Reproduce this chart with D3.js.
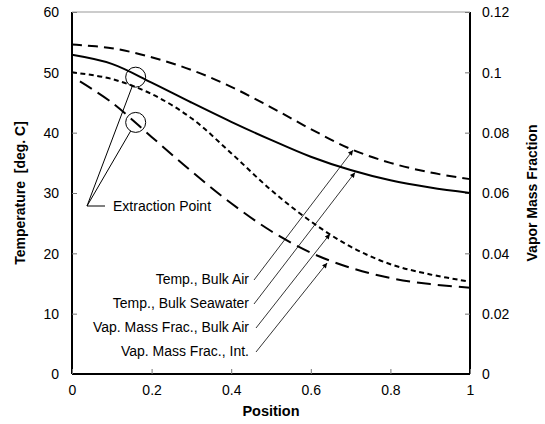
<!DOCTYPE html>
<html>
<head>
<meta charset="utf-8">
<script src="https://cdn.jsdelivr.net/npm/d3@7"></script>
<style>
  body { margin: 0; background: #fff; }
  text { font-family: Arial, "Liberation Sans", sans-serif; fill: #000; }
</style>
</head>
<body>
<svg id="chart"></svg>
<script>
// data
var positions = [0, 0.1, 0.2, 0.3, 0.4, 0.5, 0.6, 0.7, 0.8, 0.9, 1.0];
var tempBulkAir = [54.6, 54.0, 52.5, 50.4, 47.6, 44.2, 40.6, 37.3, 35.0, 33.4, 32.3];
var tempBulkSeawater = [52.9, 51.4, 48.3, 45.0, 41.8, 38.8, 36.0, 33.8, 32.1, 30.9, 30.0];
var vapBulkAir = [0.1000, 0.0978, 0.0928, 0.0848, 0.0732, 0.0610, 0.0506, 0.0422, 0.0364, 0.0330, 0.0306];
var intPositions = [0.02, 0.1, 0.2, 0.3, 0.4, 0.5, 0.6, 0.7, 0.8, 0.9, 1.0];
var vapInterface = [0.0970, 0.0900, 0.0786, 0.0672, 0.0566, 0.0474, 0.0402, 0.0352, 0.0318, 0.0298, 0.0286];

var xTicks = [0, 0.2, 0.4, 0.6, 0.8, 1];
var tempTicks = [0, 10, 20, 30, 40, 50, 60];
var fracTicks = [0, 0.02, 0.04, 0.06, 0.08, 0.1, 0.12];

var seriesLabels = ["Temp., Bulk Air", "Temp., Bulk Seawater", "Vap. Mass Frac., Bulk Air", "Vap. Mass Frac., Int."];
// where each label's arrow points: [position, value on its own axis]
var arrowTargets = [[0.706, 37.1], [0.711, 33.4], [0.648, 0.0464], [0.641, 0.0368]];
// extraction point: position, seawater temperature, interface mass fraction
var extractionPos = 0.16;
var extractionTemp = 49.2;
var extractionFrac = 0.0834;

var width = 545, height = 424;
var plotL = 72, plotR = 470, plotT = 12, plotB = 374;

var svg = d3.select('#chart').attr('width', width).attr('height', height);

var x = d3.scaleLinear().domain([0, 1]).range([plotL, plotR]);
var yT = d3.scaleLinear().domain([0, 60]).range([plotB, plotT]);
var yF = d3.scaleLinear().domain([0, 0.12]).range([plotB, plotT]);

svg.append('defs').append('marker')
    .attr('id', 'arrow')
    .attr('viewBox', '0 0 10 10')
    .attr('refX', 10).attr('refY', 5)
    .attr('markerWidth', 7).attr('markerHeight', 5)
    .attr('markerUnits', 'userSpaceOnUse')
    .attr('orient', 'auto')
    .append('path').attr('d', 'M0,0 L10,5 L0,10 Z').attr('fill', '#000');

// plot frame: grey top, black axes
svg.append('line').attr('x1', plotL).attr('x2', plotR).attr('y1', plotT).attr('y2', plotT)
    .attr('stroke', '#999').attr('stroke-width', 1);

// axes (ticks point inward)
var axisFont = '14px';
var gl = svg.append('g').attr('transform', 'translate(' + plotL + ',0)')
    .call(d3.axisRight(yT).tickValues(tempTicks).tickSize(5).tickFormat(d3.format('d')));
var gr = svg.append('g').attr('transform', 'translate(' + plotR + ',0)')
    .call(d3.axisLeft(yF).tickValues(fracTicks).tickSize(5).tickFormat(function (d) { return d === 0 ? '0' : String(+d.toFixed(2)); }));
var gb = svg.append('g').attr('transform', 'translate(0,' + plotB + ')')
    .call(d3.axisTop(x).tickValues(xTicks).tickSize(5).tickFormat(function (d) { return String(d); }));

[gl, gr, gb].forEach(function (g) {
    g.select('.domain').attr('stroke', '#000').attr('stroke-width', 2);
    g.selectAll('.tick line').attr('stroke', '#777');
    g.selectAll('text').attr('font-size', axisFont).attr('font-family', 'Arial, "Liberation Sans", sans-serif');
});
gl.selectAll('.tick text').attr('x', -13).attr('text-anchor', 'end').attr('dy', '0.35em');
gr.selectAll('.tick text').attr('x', 12).attr('text-anchor', 'start').attr('dy', '0.35em');
gb.selectAll('.tick text').attr('y', 11).attr('dy', '0.71em');
gl.select('.domain').attr('d', 'M0,' + plotT + 'V' + plotB);
gr.select('.domain').attr('d', 'M0,' + plotT + 'V' + plotB);
gb.select('.domain').attr('d', 'M' + plotL + ',0H' + plotR);

// axis titles
svg.append('text').attr('transform', 'translate(25,' + (plotT + plotB) / 2 + ') rotate(-90)')
    .attr('text-anchor', 'middle').attr('font-size', '14px').attr('font-weight', 'bold')
    .style('white-space', 'pre')
    .text('Temperature  [deg. C]');
svg.append('text').attr('transform', 'translate(537,' + (plotT + plotB) / 2 + ') rotate(-90)')
    .attr('text-anchor', 'middle').attr('font-size', '14px').attr('font-weight', 'bold')
    .text('Vapor Mass Fraction');
svg.append('text').attr('x', (plotL + plotR) / 2).attr('y', 416)
    .attr('text-anchor', 'middle').attr('font-size', '14.5px').attr('font-weight', 'bold')
    .text('Position');

// curves
function lineFor(xs, ys, yScale) {
    var pts = xs.map(function (p, i) { return [x(p), yScale(ys[i])]; });
    return d3.line().curve(d3.curveCatmullRom.alpha(0.5))(pts);
}
var series = [
    { xs: positions, ys: tempBulkAir, y: yT, dash: '10,6' },
    { xs: positions, ys: tempBulkSeawater, y: yT, dash: null },
    { xs: positions, ys: vapBulkAir, y: yF, dash: '5,3.5' },
    { xs: intPositions, ys: vapInterface, y: yF, dash: '14,7' }
];
svg.append('g').selectAll('path')
    .data(series)
    .enter().append('path')
    .attr('d', function (d) { return lineFor(d.xs, d.ys, d.y); })
    .attr('fill', 'none')
    .attr('stroke', '#000')
    .attr('stroke-width', 2)
    .attr('stroke-dasharray', function (d) { return d.dash; });

// series labels with arrows
var labelRight = 249;
var labelY = [279, 303, 327, 351];
var ann = svg.append('g');
seriesLabels.forEach(function (name, i) {
    ann.append('text').attr('x', labelRight).attr('y', labelY[i]).attr('dy', '0.35em')
        .attr('text-anchor', 'end').attr('font-size', '14px').text(name);
    var s = series[i];
    ann.append('line')
        .attr('x1', labelRight + 5 + (i > 1 ? 2 : 0)).attr('y1', labelY[i] + 1)
        .attr('x2', x(arrowTargets[i][0])).attr('y2', s.y(arrowTargets[i][1]))
        .attr('stroke', '#000').attr('stroke-width', 0.8)
        .attr('marker-end', 'url(#arrow)');
});

// extraction point circles
var circles = [
    [x(extractionPos), yT(extractionTemp)],
    [x(extractionPos), yF(extractionFrac)]
];
var vx = 87, vy = 206;
circles.forEach(function (c) {
    ann.append('circle').attr('cx', c[0]).attr('cy', c[1]).attr('r', 10)
        .attr('fill', 'none').attr('stroke', '#000').attr('stroke-width', 1);
    var dx = c[0] - vx, dy = c[1] - vy, len = Math.sqrt(dx * dx + dy * dy);
    ann.append('line').attr('x1', vx).attr('y1', vy)
        .attr('x2', c[0] - dx / len * 10).attr('y2', c[1] - dy / len * 10)
        .attr('stroke', '#000').attr('stroke-width', 1);
});
ann.append('line').attr('x1', vx).attr('y1', vy).attr('x2', vx + 18).attr('y2', vy)
    .attr('stroke', '#000').attr('stroke-width', 1);
ann.append('text').attr('x', 113).attr('y', vy).attr('dy', '0.35em')
    .attr('font-size', '14px').text('Extraction Point');
</script>
</body>
</html>
